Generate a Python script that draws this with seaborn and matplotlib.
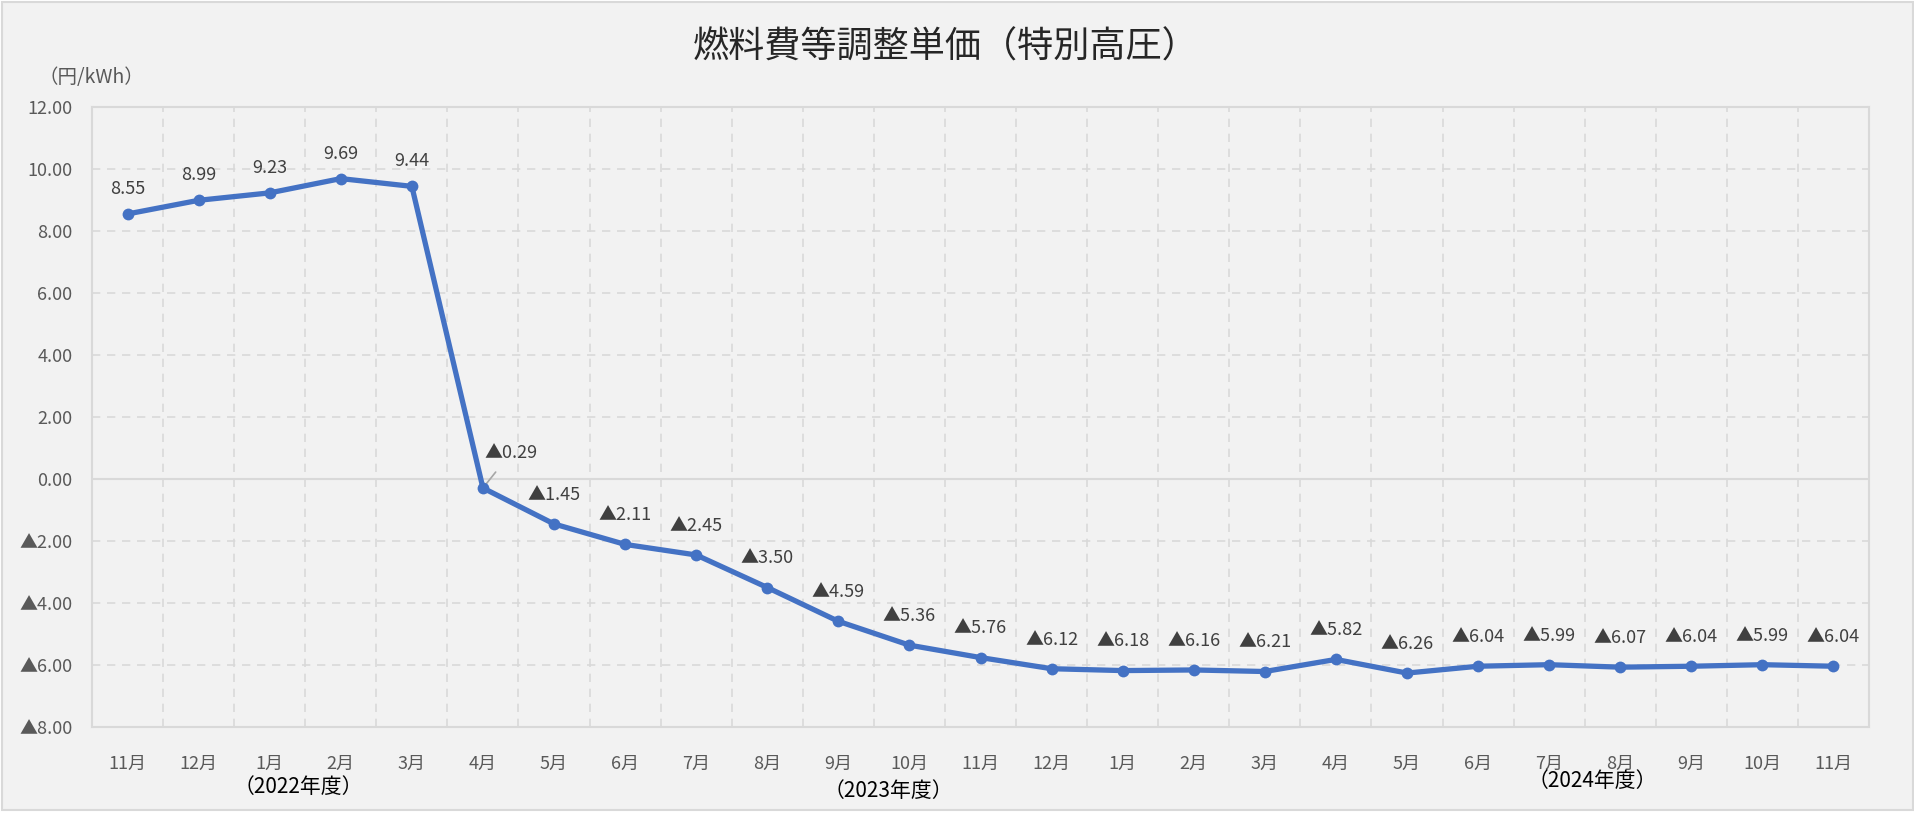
import seaborn as sns
import matplotlib.pyplot as plt
import pandas as pd
from matplotlib.patches import Rectangle

# --- DATA ---
months = ['11月', '12月', '1月', '2月', '3月', '4月', '5月', '6月', '7月', '8月', '9月', '10月',
          '11月', '12月', '1月', '2月', '3月', '4月', '5月', '6月', '7月', '8月', '9月', '10月', '11月']
prices = [8.55, 8.99, 9.23, 9.69, 9.44, -0.29, -1.45, -2.11, -2.45, -3.50, -4.59, -5.36,
          -5.76, -6.12, -6.18, -6.16, -6.21, -5.82, -6.26, -6.04, -5.99, -6.07, -6.04, -5.99, -6.04]
year_labels = ['（2022年度）', '（2023年度）', '（2024年度）']
year_label_x = [2.4, 10.7, 20.6]
year_label_y = [-0.097, -0.104, -0.087]
y_ticks = [12, 10, 8, 6, 4, 2, 0, -2, -4, -6, -8]

df = pd.DataFrame({'idx': range(len(prices)), 'month': months, 'price': prices})


def fmt(v):
    # Japanese style negative: ▲ instead of minus
    return f"▲{abs(v):.2f}" if v < 0 else f"{v:.2f}"


# --- STYLE ---
sns.set_theme(style="white")
plt.rcParams['font.family'] = ['Noto Sans CJK JP', 'DejaVu Sans']

BG = '#f2f2f2'
GRID = '#d9d9d9'
TXT = '#595959'
LINE = '#4472C4'

fig = plt.figure(figsize=(19.15, 8.24), dpi=100, facecolor='white')
fig.patches.append(Rectangle((0.0008, 14 / 824), 0.998, 1 - 14 / 824 - 0.002,
                             transform=fig.transFigure, facecolor=BG, edgecolor=GRID,
                             linewidth=1.5, zorder=-10))

ax = fig.add_axes([92 / 1915, 1 - 727 / 824, (1869 - 92) / 1915, (727 - 107) / 824])
ax.set_facecolor(BG)

sns.lineplot(data=df, x='idx', y='price', ax=ax, color=LINE, linewidth=3.8,
             marker='o', markersize=8.5, markeredgewidth=0, zorder=5)

ax.set_xlim(-0.5, len(prices) - 0.5)
ax.set_ylim(-8, 12)

# grid: dashed horizontals, dashed verticals between categories, solid zero line
for y in y_ticks:
    if y in (12, -8):
        continue
    if y == 0:
        ax.axhline(0, color=GRID, linewidth=1.5, zorder=1)
    else:
        ax.axhline(y, color=GRID, linewidth=1.2, linestyle=(0, (5, 4)), zorder=1)
for i in range(len(prices) - 1):
    ax.axvline(i + 0.5, color=GRID, linewidth=1.2, linestyle=(0, (5, 4)), zorder=1)

for s in ax.spines.values():
    s.set_color(GRID)
    s.set_linewidth(1.5)

ax.set_xticks(range(len(months)))
ax.set_xticklabels(months)
ax.set_yticks(y_ticks)
ax.set_yticklabels([fmt(v) for v in y_ticks])
ax.tick_params(axis='x', length=0, pad=20, labelsize=13, labelcolor=TXT)
ax.tick_params(axis='y', length=0, pad=14, labelsize=13, labelcolor=TXT)
ax.set_xlabel('')
ax.set_ylabel('')

# data labels
for i, v in enumerate(prices):
    if i == 5:
        ax.annotate(fmt(v), xy=(i, v), xytext=(20, 25), textcoords='offset points',
                    ha='center', va='center', fontsize=13, color='#404040',
                    arrowprops=dict(arrowstyle='-', color='#a6a6a6', lw=1.2,
                                    shrinkA=6, shrinkB=2))
    else:
        off = 18 if v >= 0 else 21
        ax.annotate(fmt(v), xy=(i, v), xytext=(0, off), textcoords='offset points',
                    ha='center', va='center', fontsize=13, color='#404040')

# fiscal year labels under the axis
for lbl, x, y in zip(year_labels, year_label_x, year_label_y):
    ax.annotate(lbl, xy=(x, y), xycoords=('data', 'axes fraction'),
                ha='center', va='center', fontsize=15, color='black')

fig.text(946 / 1915, 1 - 48 / 824, '燃料費等調整単価（特別高圧）', ha='center', va='center',
         fontsize=26, color='#262626')
fig.text(91 / 1915, 1 - 77 / 824, '（円/kWh）', ha='center', va='center',
         fontsize=14, color=TXT)

fig.savefig('out.png', dpi=100, facecolor='white')
